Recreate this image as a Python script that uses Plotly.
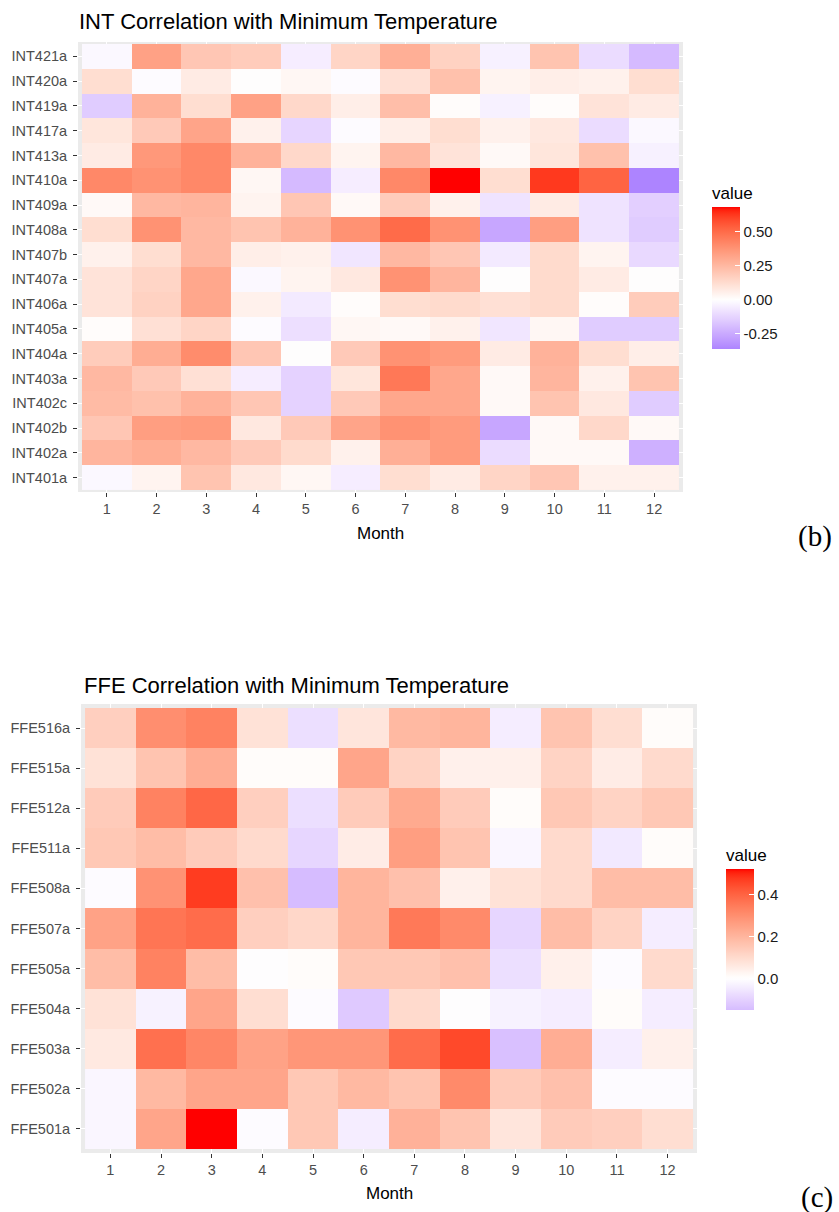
import numpy as np
import plotly.graph_objects as go

# ---------------- data ----------------
months = list(range(1, 13))

int_sites = ["INT421a", "INT420a", "INT419a", "INT417a", "INT413a", "INT410a",
             "INT409a", "INT408a", "INT407b", "INT407a", "INT406a", "INT405a",
             "INT404a", "INT403a", "INT402c", "INT402b", "INT402a", "INT401a"]

int_values = [
    [-0.02, 0.33, 0.20, 0.18, -0.05, 0.15, 0.28, 0.16, -0.04, 0.21, -0.10, -0.20],
    [0.12, -0.01, 0.07, 0.00, 0.03, -0.01, 0.11, 0.22, 0.04, 0.06, 0.05, 0.12],
    [-0.15, 0.27, 0.12, 0.33, 0.14, 0.06, 0.23, 0.01, -0.04, 0.01, 0.10, 0.07],
    [0.09, 0.19, 0.32, 0.05, -0.12, -0.01, 0.06, 0.12, 0.05, 0.08, -0.10, -0.02],
    [0.07, 0.36, 0.41, 0.27, 0.14, 0.04, 0.25, 0.10, 0.02, 0.09, 0.22, -0.04],
    [0.41, 0.38, 0.41, 0.03, -0.20, -0.05, 0.41, 0.68, 0.12, 0.62, 0.52, -0.36],
    [0.02, 0.25, 0.26, 0.04, 0.20, 0.02, 0.18, 0.05, -0.08, 0.07, -0.08, -0.14],
    [0.12, 0.38, 0.25, 0.21, 0.27, 0.38, 0.50, 0.38, -0.26, 0.34, -0.08, -0.15],
    [0.05, 0.12, 0.25, 0.06, 0.05, -0.07, 0.25, 0.20, -0.06, 0.13, 0.04, -0.11],
    [0.10, 0.15, 0.31, -0.02, 0.04, 0.08, 0.38, 0.26, 0.00, 0.13, 0.07, 0.00],
    [0.10, 0.16, 0.31, 0.05, -0.06, 0.01, 0.12, 0.13, 0.11, 0.13, 0.01, 0.18],
    [0.01, 0.11, 0.15, -0.01, -0.09, 0.03, 0.02, 0.05, -0.07, 0.03, -0.15, -0.15],
    [0.18, 0.29, 0.40, 0.20, 0.00, 0.19, 0.38, 0.35, 0.07, 0.27, 0.12, 0.06],
    [0.25, 0.19, 0.11, -0.05, -0.13, 0.09, 0.46, 0.31, 0.02, 0.26, 0.05, 0.21],
    [0.24, 0.22, 0.27, 0.20, -0.13, 0.19, 0.31, 0.31, 0.02, 0.21, 0.08, -0.15],
    [0.20, 0.34, 0.35, 0.08, 0.19, 0.32, 0.38, 0.35, -0.26, 0.02, 0.14, 0.02],
    [0.26, 0.29, 0.25, 0.19, 0.13, 0.05, 0.28, 0.35, -0.10, 0.02, 0.02, -0.23],
    [-0.02, 0.04, 0.21, 0.08, 0.03, -0.05, 0.12, 0.07, 0.15, 0.20, 0.05, 0.05],
]

ffe_sites = ["FFE516a", "FFE515a", "FFE512a", "FFE511a", "FFE508a", "FFE507a",
             "FFE505a", "FFE504a", "FFE503a", "FFE502a", "FFE501a"]

ffe_values = [
    [0.13, 0.30, 0.33, 0.08, -0.07, 0.07, 0.19, 0.20, -0.04, 0.16, 0.09, 0.01],
    [0.08, 0.16, 0.22, 0.01, 0.01, 0.24, 0.12, 0.04, 0.04, 0.12, 0.05, 0.10],
    [0.14, 0.33, 0.39, 0.13, -0.07, 0.14, 0.23, 0.14, 0.01, 0.15, 0.12, 0.15],
    [0.15, 0.18, 0.14, 0.10, -0.09, 0.05, 0.26, 0.16, -0.02, 0.10, -0.05, 0.01],
    [-0.01, 0.29, 0.47, 0.17, -0.15, 0.20, 0.17, 0.04, 0.08, 0.10, 0.18, 0.18],
    [0.25, 0.36, 0.38, 0.13, 0.11, 0.20, 0.35, 0.31, -0.09, 0.18, 0.12, -0.04],
    [0.18, 0.33, 0.18, 0.00, 0.01, 0.15, 0.15, 0.17, -0.07, 0.04, -0.01, 0.10],
    [0.08, -0.03, 0.24, 0.09, -0.01, -0.12, 0.10, 0.00, -0.03, -0.04, 0.01, -0.04],
    [0.06, 0.37, 0.32, 0.25, 0.28, 0.28, 0.38, 0.45, -0.14, 0.22, -0.04, 0.04],
    [-0.02, 0.19, 0.24, 0.24, 0.15, 0.19, 0.16, 0.31, 0.14, 0.17, -0.01, -0.01],
    [-0.02, 0.24, 0.52, -0.01, 0.15, -0.04, 0.21, 0.16, 0.07, 0.14, 0.13, 0.09],
]

int_ticks = [-0.25, 0.0, 0.25, 0.50]
int_ticktext = ["-0.25", "0.00", "0.25", "0.50"]
ffe_ticks = [0.0, 0.2, 0.4]
ffe_ticktext = ["0.0", "0.2", "0.4"]

# ---------------- colour helpers (ggplot2 gradient2: blue-white-red in Lab) ----------------
def _hex_to_rgb(h):
    h = h.lstrip("#")
    return [int(h[i:i + 2], 16) / 255.0 for i in (0, 2, 4)]

def _srgb_to_lin(c):
    return c / 12.92 if c <= 0.04045 else ((c + 0.055) / 1.055) ** 2.4

def _lin_to_srgb(c):
    c = min(max(c, 0.0), 1.0)
    return 12.92 * c if c <= 0.0031308 else 1.055 * c ** (1 / 2.4) - 0.055

WHITE_REF = (0.95047, 1.0, 1.08883)

def hex_to_lab(h):
    r, g, b = [_srgb_to_lin(c) for c in _hex_to_rgb(h)]
    X = 0.4124 * r + 0.3576 * g + 0.1805 * b
    Y = 0.2126 * r + 0.7152 * g + 0.0722 * b
    Z = 0.0193 * r + 0.1192 * g + 0.9505 * b
    def f(t):
        return t ** (1 / 3) if t > 0.008856 else 7.787 * t + 16 / 116
    fx, fy, fz = f(X / WHITE_REF[0]), f(Y / WHITE_REF[1]), f(Z / WHITE_REF[2])
    return (116 * fy - 16, 500 * (fx - fy), 200 * (fy - fz))

def lab_to_hex(L, a, b):
    fy = (L + 16) / 116
    fx = fy + a / 500
    fz = fy - b / 200
    def finv(t):
        return t ** 3 if t ** 3 > 0.008856 else (t - 16 / 116) / 7.787
    X, Y, Z = finv(fx) * WHITE_REF[0], finv(fy) * WHITE_REF[1], finv(fz) * WHITE_REF[2]
    r = 3.2406 * X - 1.5372 * Y - 0.4986 * Z
    g = -0.9689 * X + 1.8758 * Y + 0.0415 * Z
    bb = 0.0557 * X - 0.2040 * Y + 1.0570 * Z
    return "#%02x%02x%02x" % tuple(int(round(_lin_to_srgb(c) * 255)) for c in (r, g, bb))

LOW, MID, HIGH = hex_to_lab("#0000FF"), hex_to_lab("#FFFFFF"), hex_to_lab("#FF0000")

def gradient2_scale(zmin, zmax, n=61):
    m = max(abs(zmin), abs(zmax))
    scale = []
    for p in np.linspace(0, 1, n):
        v = zmin + p * (zmax - zmin)
        t = v / m
        end = HIGH if t >= 0 else LOW
        t = abs(t)
        lab = [MID[i] + (end[i] - MID[i]) * t for i in range(3)]
        scale.append([float(p), lab_to_hex(*lab)])
    return scale

# ---------------- figure ----------------
W, H = 839, 1212
FONT = "Liberation Sans, Arial, sans-serif"
SERIF = "Liberation Serif, Times New Roman, serif"

def px(x):
    return x / W

def py(y):
    return 1 - y / H

fig = go.Figure()

int_min, int_max = float(np.min(int_values)), float(np.max(int_values))
ffe_min, ffe_max = float(np.min(ffe_values)), float(np.max(ffe_values))

cb_common = dict(
    xanchor="left", yanchor="middle", lenmode="pixels", thickness=28,
    xpad=0, ypad=0, outlinewidth=0, ticks="inside", tickcolor="white", ticklen=5,
    tickfont=dict(family=FONT, size=15, color="#1A1A1A"),
)

fig.add_trace(go.Heatmap(
    x=months, y=int_sites[::-1], z=int_values[::-1],
    zmin=int_min, zmax=int_max,
    colorscale=gradient2_scale(int_min, int_max),
    xaxis="x", yaxis="y",
    colorbar=dict(x=px(712), y=py(266), len=166,
                  title=dict(text="value", side="top", font=dict(family=FONT, size=17, color="black")),
                  tickvals=int_ticks, ticktext=int_ticktext, **cb_common),
))

fig.add_trace(go.Heatmap(
    x=months, y=ffe_sites[::-1], z=ffe_values[::-1],
    zmin=ffe_min, zmax=ffe_max,
    colorscale=gradient2_scale(ffe_min, ffe_max),
    xaxis="x2", yaxis="y2",
    colorbar=dict(x=px(726), y=py(927.5), len=165,
                  title=dict(text="value", side="top", font=dict(family=FONT, size=17, color="black")),
                  tickvals=ffe_ticks, ticktext=ffe_ticktext, **cb_common),
))

axis_common = dict(
    showgrid=True, gridcolor="white", gridwidth=1, zeroline=False, showline=False,
    ticks="outside", ticklen=4, tickcolor="#333333", tickwidth=1,
    tickfont=dict(family=FONT, size=14.5, color="#4D4D4D"),
)

pad_x = 0.08
fig.update_layout(
    width=W, height=H,
    margin=dict(l=0, r=0, t=0, b=0),
    paper_bgcolor="white", plot_bgcolor="#EBEBEB",
    xaxis=dict(domain=[px(78), px(683)], anchor="y", range=[0.5 - pad_x, 12.5 + pad_x],
               tickvals=months, **axis_common),
    yaxis=dict(domain=[py(492), py(42)], anchor="x", type="category",
               categoryorder="array", categoryarray=int_sites[::-1], ticklabelstandoff=3,
               range=[-0.5 - 0.08, len(int_sites) - 0.5 + 0.08], **axis_common),
    xaxis2=dict(domain=[px(81), px(697)], anchor="y2", range=[0.5 - pad_x, 12.5 + pad_x],
                tickvals=months, **axis_common),
    yaxis2=dict(domain=[py(1153), py(704)], anchor="x2", type="category",
                categoryorder="array", categoryarray=ffe_sites[::-1], ticklabelstandoff=3,
                range=[-0.5 - 0.1, len(ffe_sites) - 0.5 + 0.1], **axis_common),
    annotations=[
        dict(text="INT Correlation with Minimum Temperature", xref="paper", yref="paper",
             x=px(77), y=py(21), xanchor="left", yanchor="middle", showarrow=False,
             font=dict(family=FONT, size=22, color="black")),
        dict(text="FFE Correlation with Minimum Temperature", xref="paper", yref="paper",
             x=px(82), y=py(685), xanchor="left", yanchor="middle", showarrow=False,
             font=dict(family=FONT, size=22, color="black")),
        dict(text="Month", xref="paper", yref="paper", x=px(380.5), y=py(533),
             xanchor="center", yanchor="middle", showarrow=False,
             font=dict(family=FONT, size=17, color="black")),
        dict(text="Month", xref="paper", yref="paper", x=px(389), y=py(1193),
             xanchor="center", yanchor="middle", showarrow=False,
             font=dict(family=FONT, size=17, color="black")),
        dict(text="(b)", xref="paper", yref="paper", x=px(815), y=py(537),
             xanchor="center", yanchor="middle", showarrow=False,
             font=dict(family=SERIF, size=29, color="black")),
        dict(text="(c)", xref="paper", yref="paper", x=px(817), y=py(1197),
             xanchor="center", yanchor="middle", showarrow=False,
             font=dict(family=SERIF, size=29, color="black")),
    ],
)

fig.write_html(
    "out.html",
    config={"displayModeBar": False},
    post_script="document.body.style.margin='0';document.body.style.overflow='hidden';",
)
